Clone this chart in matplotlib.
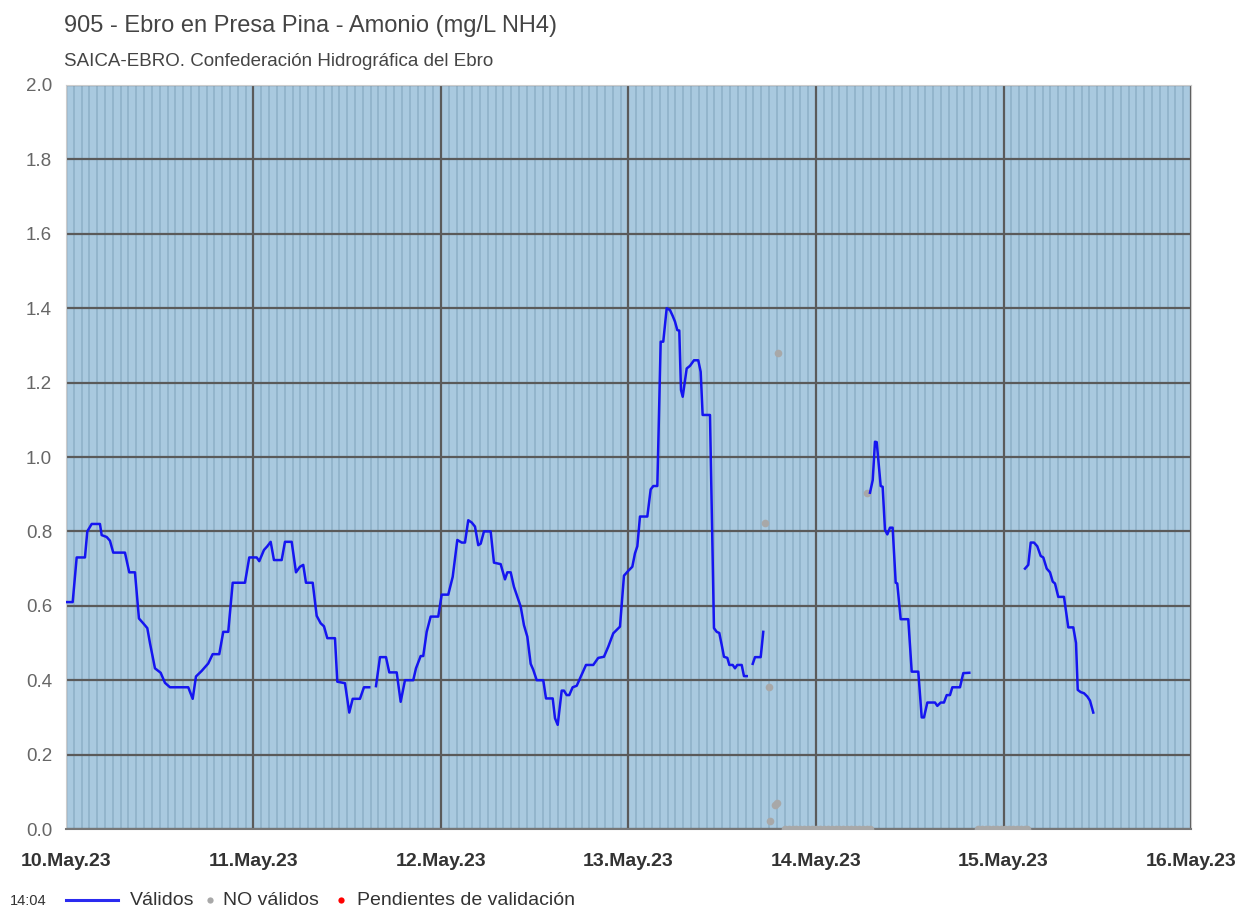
import numpy as np
import matplotlib
matplotlib.use('Agg')
import matplotlib.pyplot as plt

plt.rcParams['font.family'] = ['Liberation Sans', 'DejaVu Sans']

# horas desde 10.May.23 00:00 y valores de amonio (mg/L NH4); nan = hueco
horas = [0.0, 0.86, 1.37, 2.43, 2.73, 3.29, 4.35, 4.57, 5.21, 5.63, 6.05, 7.55, 8.10, 8.83,
         9.34, 9.89, 10.41, 10.75, 11.39, 12.12, 12.67, 13.31, 15.65, 16.22, 16.64, 17.37,
         18.21, 18.78, 19.62, 20.13, 20.77, 21.34, 22.91, 23.46, 24.41, 24.74, 25.34, 25.77,
         26.20, 26.62, 27.61, 28.03, 28.89, 29.44, 29.95, 30.37, 30.72, 31.58, 32.09, 32.60,
         33.02, 33.45, 34.43, 34.73, 35.71, 36.26, 36.70, 37.63, 38.14, 38.82, 39.2,
         39.68, 40.19, 40.96, 41.38, 42.33, 42.84, 43.39, 44.45, 44.80, 45.40, 45.73, 46.17,
         46.68, 47.65, 48.09, 48.93, 49.50, 50.09, 50.65, 51.07, 51.49, 51.93, 52.35, 52.77,
         53.08, 53.50, 54.36, 54.78, 55.64, 56.19, 56.49, 56.92, 57.34, 58.20, 58.62, 59.05,
         59.48, 59.81, 60.25, 61.09, 61.44, 62.30, 62.59, 62.94, 63.45, 63.74, 64.09, 64.42,
         64.85, 65.37, 65.79, 66.56, 67.49, 68.13, 68.86, 69.41, 70.05, 70.91, 71.42, 71.97,
         72.49, 72.83, 73.13, 73.47, 74.41, 74.84, 75.18, 75.69, 76.12, 76.45, 76.89, 77.31,
         77.66, 77.95, 78.25, 78.50, 78.72, 78.94, 79.45, 79.87, 80.38, 80.93, 81.24, 81.49,
         82.43, 82.94, 83.29, 83.62, 83.93, 84.22, 84.65, 84.91, 85.34, 85.63, 85.93, 86.49,
         86.78, 87.13, 87.5,
         87.90, 88.19, 88.92, 89.25, 95.0,
         102.91, 103.26, 103.55, 103.77, 104.28, 104.53, 104.83, 105.13, 105.47, 105.81,
         106.20, 106.40, 106.84, 107.81, 108.25, 109.09, 109.53, 109.82, 110.25, 111.23,
         111.53, 111.96, 112.38, 112.73, 113.15, 113.45, 114.43, 114.85, 115.62, 118.0,
         122.75, 123.17, 123.48, 123.90, 124.32, 124.76, 125.09, 125.53, 125.95, 126.30,
         126.59, 127.01, 127.74, 128.29, 128.93, 129.28, 129.50, 129.88, 130.30, 130.73,
         131.07, 131.49]
validos = [0.61, 0.61, 0.73, 0.73, 0.80, 0.82, 0.82, 0.79, 0.785, 0.775, 0.743, 0.743, 0.69, 0.69,
           0.566, 0.553, 0.54, 0.50, 0.432, 0.42, 0.393, 0.381, 0.381, 0.35, 0.41, 0.425,
           0.445, 0.47, 0.47, 0.53, 0.53, 0.662, 0.662, 0.73, 0.73, 0.72, 0.75, 0.76,
           0.772, 0.723, 0.723, 0.772, 0.772, 0.69, 0.705, 0.71, 0.662, 0.662, 0.573, 0.553,
           0.545, 0.513, 0.513, 0.396, 0.392, 0.313, 0.35, 0.35, 0.381, 0.381, np.nan,
           0.384, 0.462, 0.462, 0.421, 0.421, 0.342, 0.40, 0.40, 0.432, 0.465, 0.465, 0.53,
           0.571, 0.571, 0.63, 0.63, 0.678, 0.777, 0.77, 0.77, 0.83, 0.824, 0.813, 0.763,
           0.767, 0.80, 0.80, 0.716, 0.712, 0.671, 0.69, 0.69, 0.651, 0.598, 0.548, 0.517,
           0.444, 0.428, 0.40, 0.40, 0.351, 0.351, 0.298, 0.28, 0.372, 0.372, 0.36, 0.36,
           0.381, 0.385, 0.405, 0.441, 0.441, 0.46, 0.463, 0.49, 0.526, 0.544, 0.681, 0.694,
           0.705, 0.741, 0.76, 0.84, 0.84, 0.913, 0.922, 0.922, 1.31, 1.31, 1.40, 1.395,
           1.379, 1.364, 1.341, 1.34, 1.18, 1.162, 1.238, 1.245, 1.26, 1.26, 1.229, 1.113,
           1.113, 0.54, 0.53, 0.527, 0.495, 0.463, 0.46, 0.441, 0.441, 0.432, 0.441, 0.441,
           0.411, 0.411, np.nan,
           0.444, 0.462, 0.462, 0.53, np.nan,
           0.904, 0.938, 1.041, 1.04, 0.922, 0.92, 0.804, 0.792, 0.81, 0.81,
           0.662, 0.66, 0.564, 0.564, 0.423, 0.423, 0.30, 0.30, 0.34, 0.34,
           0.331, 0.34, 0.34, 0.36, 0.36, 0.381, 0.381, 0.419, 0.42, np.nan,
           0.70, 0.71, 0.77, 0.77, 0.76, 0.734, 0.73, 0.70, 0.69, 0.665,
           0.66, 0.624, 0.624, 0.542, 0.542, 0.50, 0.374, 0.368, 0.365, 0.356,
           0.345, 0.313]

# NO validos
horas_nv = [89.47, 89.98, 90.11, 90.75, 90.97, 91.14, 102.53,
            92.0, 92.5, 93.0, 93.5, 94.0, 94.5, 95.0, 95.5, 96.0, 96.5, 97.0, 97.5,
            98.0, 98.5, 99.0, 99.5, 100.0, 100.5, 101.0, 101.5, 102.0, 102.5, 102.9,
            116.7, 117.2, 117.7, 118.2, 118.7, 119.2, 119.7, 120.2, 120.7, 121.2, 121.7,
            122.2, 122.7, 123.0]
no_validos = [0.823, 0.381, 0.022, 0.065, 0.07, 1.28, 0.903,
              0, 0, 0, 0, 0, 0, 0, 0, 0, 0, 0, 0, 0, 0, 0, 0, 0, 0, 0, 0, 0, 0, 0,
              0, 0, 0, 0, 0, 0, 0, 0, 0, 0, 0, 0, 0, 0]

dias = ['10.May.23', '11.May.23', '12.May.23', '13.May.23', '14.May.23', '15.May.23', '16.May.23']

fig = plt.figure(figsize=(12.4, 9.11), dpi=100)
ax = fig.add_axes([0.0532, 0.0900, 0.9073, 0.8167])
ax.set_facecolor('#a9c9df')

ax.set_xlim(0, 144)
ax.set_ylim(0, 2.0)

# rejilla: horas (menor), dias y 0.2 (mayor)
ax.set_xticks(np.arange(0, 145, 24))
ax.set_xticks(np.arange(0, 145, 1), minor=True)
ax.set_yticks(np.arange(0, 2.01, 0.2))
ax.grid(which='minor', axis='x', color='#8fb1c9', linewidth=1.2)
ax.grid(which='major', color='#5a5a5a', linewidth=1.6)
ax.set_axisbelow(True)

ax.set_xticklabels(dias, fontsize=14, fontweight='bold', color='#333333')
ax.set_yticklabels(['%.1f' % v for v in np.arange(0, 2.01, 0.2)], fontsize=13.5, color='#666666')
ax.tick_params(which='both', length=0)
ax.tick_params(axis='x', pad=17)
ax.tick_params(axis='y', pad=10)

for s in ['top', 'right', 'left']:
    ax.spines[s].set_color('#cccccc')
ax.spines['bottom'].set_color('#777777')
ax.spines['bottom'].set_linewidth(1.5)

ax.plot(horas_nv, no_validos, 'o', color='#a8a8a8', markersize=5.5, markeredgewidth=0, zorder=3)
ax.plot(horas, validos, color='#1515f0', linewidth=1.8, zorder=4)

fig.text(0.052, 0.972, '905 - Ebro en Presa Pina - Amonio (mg/L NH4)', fontsize=17, color='#444444', va='center')
fig.text(0.052, 0.932, 'SAICA-EBRO. Confederación Hidrográfica del Ebro', fontsize=13.5, color='#444444', va='center')

# leyenda
yl = 0.011
fig.text(0.008, yl, '14:04', fontsize=10.5, color='#333333', va='center')
fig.add_artist(plt.Line2D([0.053, 0.095], [yl + 0.001, yl + 0.001], color='#2b2bf0', linewidth=2.2))
fig.text(0.105, yl, 'Válidos', fontsize=14, color='#333333', va='center')
fig.add_artist(plt.Line2D([0.1695], [yl + 0.001], marker='o', color='#a8a8a8', markersize=4.5, markeredgewidth=0))
fig.text(0.18, yl, 'NO válidos', fontsize=14, color='#333333', va='center')
fig.add_artist(plt.Line2D([0.275], [yl + 0.001], marker='o', color='#ff0000', markersize=4.5, markeredgewidth=0))
fig.text(0.288, yl, 'Pendientes de validación', fontsize=14, color='#333333', va='center')

fig.savefig('out.png', dpi=100)
